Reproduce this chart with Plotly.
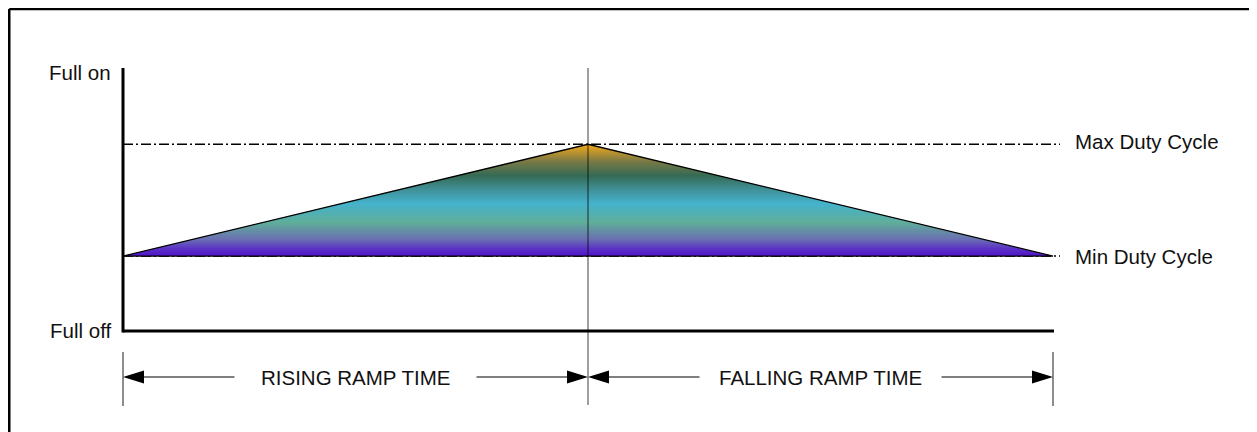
import plotly.graph_objects as go

# ramp profile: time in units of one ramp, level in % of full on
phase_names = ['RISING RAMP TIME', 'FALLING RAMP TIME']
phase_times = [1.0, 1.0]
level_names = ['Full off', 'Full on']
level_values = [0, 100]
duty_names = ['Min Duty Cycle', 'Max Duty Cycle']
duty_values = [28.5, 71]

# gradient stops of the ramp fill, from min duty (0) up to max duty (1)
grad_pos = [0, 0.06, 0.15, 0.3, 0.47, 0.6, 0.72, 0.85, 1]
grad_col = ['#4f14c6', '#5a2ec6', '#6a6fb2', '#5fae9a', '#45b2cc',
            '#3f8f95', '#356a55', '#7c7a44', '#f6aa1a']

BODY = 8                     # page margin around the plot div
W, H = 1257 - BODY, 432 - BODY      # fit the figure inside the window
X0_PX, X_SCALE = 123 - BODY, 465    # column of t=0, pixels per time unit
Y0_PX, Y_SCALE = 331 - BODY, 2.63   # row of level 0, pixels per level unit
FONT = 'Liberation Sans, Arial, sans-serif'


def ypx(p):
    # data level at page row p
    return (Y0_PX - (p - BODY)) / Y_SCALE


def dx(px):
    return px / X_SCALE


t_start = 0
t_peak = t_start + phase_times[0]
t_end = t_peak + phase_times[1]
ramp_t = [t_start, t_peak, t_end, t_start]
ramp_y = [duty_values[0], duty_values[1], duty_values[0], duty_values[0]]

fig = go.Figure()

# gradient filled ramp
fig.add_trace(go.Scatter(
    x=ramp_t, y=ramp_y, mode='lines', fill='toself',
    line=dict(color='black', width=1.3),
    fillgradient=dict(type='vertical',
                      colorscale=[[p, c] for p, c in zip(grad_pos, grad_col)],
                      start=duty_values[0], stop=duty_values[1]),
    hoverinfo='skip', showlegend=False
))

# dimension arrows under the axis
arrow_y = ypx(377)
bounds = [t_start, t_peak, t_end]
seg_x, seg_y = [], []
shapes = []
annotations = []
for i, name in enumerate(phase_names):
    s, e = bounds[i], bounds[i + 1]
    c = (s + e) / 2
    seg_x += [s + dx(18), c - dx(121), None, c + dx(121), e - dx(18), None]
    seg_y += [arrow_y, arrow_y, None, arrow_y, arrow_y, None]
    annotations.append(dict(x=c, y=arrow_y, text=name, showarrow=False,
                            font=dict(size=20.5, family=FONT, color='#111')))
    for anchor, sign in [(s, 1), (e, -1)]:
        shapes.append(dict(
            type='path', xref='x', yref='y', xsizemode='pixel', ysizemode='pixel',
            xanchor=anchor, yanchor=arrow_y,
            path='M0,0 L%d,6.5 L%d,-6.5 Z' % (21 * sign, 21 * sign),
            fillcolor='black', line=dict(width=0), layer='above'))

fig.add_trace(go.Scatter(x=seg_x, y=seg_y, mode='lines',
                         line=dict(color='black', width=1.2),
                         hoverinfo='skip', showlegend=False))

# duty cycle reference lines
for v in duty_values:
    shapes.append(dict(type='line', x0=t_start, x1=t_end + dx(7), y0=v, y1=v,
                       line=dict(color='black', width=1.4, dash='10px,3px,2px,3px'),
                       layer='below'))

# axes
shapes.append(dict(type='line', x0=t_start, x1=t_start, y0=ypx(332.5), y1=level_values[1],
                   line=dict(color='black', width=3), layer='above'))
shapes.append(dict(type='line', x0=t_start, x1=t_end + dx(1), y0=level_values[0],
                   y1=level_values[0], line=dict(color='black', width=3), layer='above'))

# peak marker and extent ticks
shapes.append(dict(type='line', x0=t_peak, x1=t_peak, y0=level_values[1], y1=ypx(405),
                   line=dict(color='rgba(0,0,0,0.5)', width=1.5), layer='above'))
for t in [t_start, t_end]:
    shapes.append(dict(type='line', x0=t, x1=t, y0=ypx(352), y1=ypx(406),
                       line=dict(color='rgba(0,0,0,0.6)', width=1.5), layer='above'))

# outer frame: only its top and left edges fall inside the picture
frame_x, frame_y = 1.2 / W, 1 - 1.0 / H
shapes.append(dict(type='line', xref='paper', yref='paper',
                   x0=frame_x, x1=1.2, y0=frame_y, y1=frame_y,
                   line=dict(color='black', width=2.6)))
shapes.append(dict(type='line', xref='paper', yref='paper',
                   x0=frame_x, x1=frame_x, y0=-0.2, y1=frame_y,
                   line=dict(color='black', width=2.6)))

# labels
for name, v, shift in zip(level_names, level_values, [1, -4]):
    annotations.append(dict(x=t_start, y=v, text=name, showarrow=False,
                            xanchor='right', xshift=-10, yshift=shift,
                            font=dict(size=20.5, family=FONT, color='#111')))
for name, v, shift in zip(duty_names, duty_values, [0, 3]):
    annotations.append(dict(x=t_end, y=v, text=name, showarrow=False,
                            xanchor='left', xshift=20, yshift=shift,
                            font=dict(size=20.5, family=FONT, color='#111')))

fig.update_layout(
    width=W, height=H,
    margin=dict(l=0, r=0, t=0, b=0),
    paper_bgcolor='white', plot_bgcolor='white',
    xaxis=dict(range=[-X0_PX / X_SCALE, (W - X0_PX) / X_SCALE], visible=False, fixedrange=True),
    yaxis=dict(range=[-(H - Y0_PX) / Y_SCALE, Y0_PX / Y_SCALE], visible=False, fixedrange=True),
    shapes=shapes,
    annotations=annotations,
    showlegend=False
)

fig.write_html("out.html")
